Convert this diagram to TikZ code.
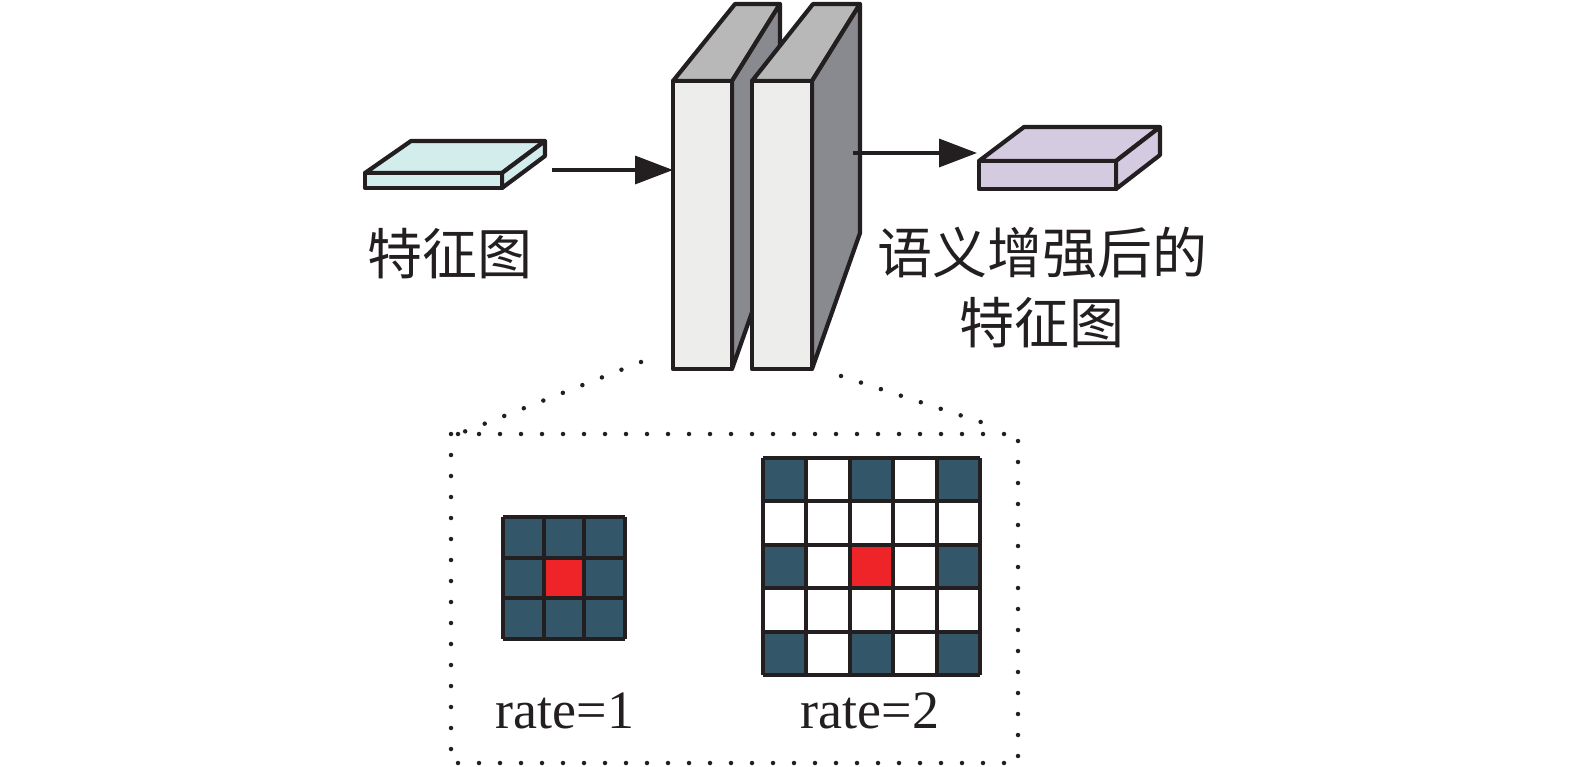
\documentclass[tikz,border=0pt]{standalone}
\usepackage{fontspec}
\setmainfont{Liberation Serif}
\newfontfamily\cjk{Noto Sans CJK SC}
\usetikzlibrary{arrows.meta}
\definecolor{edge}{HTML}{231F20}
\definecolor{slabA}{HTML}{D3ECEC}
\definecolor{slabB}{HTML}{D5CBE0}
\definecolor{pfront}{HTML}{EDEDEB}
\definecolor{ptop}{HTML}{B8B8B8}
\definecolor{pside}{HTML}{898A8F}
\definecolor{cellD}{HTML}{335669}
\definecolor{cellR}{HTML}{EE2429}
\tikzset{
  face/.style={draw=edge, line width=4.2pt, line join=round},
  conn/.style={draw=edge, line width=3.5pt, -{Triangle[length=38pt,width=28pt]}},
  dots/.style={draw=edge, line width=4.5pt, line cap=round, dash pattern=on 0pt off 21pt},
  gridline/.style={draw=edge, line width=4pt},
  cnlabel/.style={font=\cjk\fontsize{55}{70}\selectfont, text=edge, inner sep=0pt, align=center},
  ratelabel/.style={font=\fontsize{54}{60}\selectfont, text=edge, inner sep=0pt, anchor=base},
}
\begin{document}
\begin{tikzpicture}[x=1pt,y=-1pt]
\useasboundingbox (0,0) rectangle (1575,767);
% dotted zoom box
\draw[dots] (641,362) -- (456,435);
\draw[dots] (841,376) -- (999,428);
\draw[dots] (451,434) rectangle (1018,763);
% input slab
\path[face, fill=slabA] (365,173) -- (411,141) -- (545,141) -- (502,173) -- cycle;
\path[face, fill=slabA] (502,173) -- (545,141) -- (545,156) -- (502,188) -- cycle;
\path[face, fill=slabA] (365,173) rectangle (502,188);
\coordinate (inslab) at (552,170);
% panel 1
\path[face, fill=ptop] (673,81) -- (735,4) -- (780,4) -- (732,81) -- cycle;
\path[face, fill=pside] (732,81) -- (780,4) -- (780,233) -- (732,369) -- cycle;
\path[face, fill=pfront] (673,81) rectangle (732,369);
% panel 2
\path[face, fill=ptop] (752,81) -- (813,4) -- (860,4) -- (812,81) -- cycle;
\path[face, fill=pside] (812,81) -- (860,4) -- (860,233) -- (812,369) -- cycle;
\path[face, fill=pfront] (752,81) rectangle (812,369);
\coordinate (p1w) at (673,170);
\coordinate (p2e) at (853,153);
% output slab
\path[face, fill=slabB] (979,161) -- (1024,127) -- (1160,127) -- (1116,161) -- cycle;
\path[face, fill=slabB] (1116,161) -- (1160,127) -- (1160,155) -- (1116,189) -- cycle;
\path[face, fill=slabB] (979,161) rectangle (1116,189);
\coordinate (outslab) at (977,153);
% connectors
\draw[conn] (inslab) -- (p1w);
\draw[conn] (p2e) -- (outslab);
% labels
\node[cnlabel] (lin) at (450,254) {特征图};
\node[cnlabel] (lout) at (1042,287) {语义增强后的\\特征图};
% 3x3 grid
\fill[cellD] (503,517) rectangle (625,639);
\fill[cellR] (543.67,557.67) rectangle (584.33,598.33);
\foreach \i in {0,...,3} {
  \draw[gridline] ({503+\i*40.667},517) -- ({503+\i*40.667},639);
  \draw[gridline] (503,{517+\i*40.667}) -- (625,{517+\i*40.667});
}
% 5x5 grid
\fill[white] (763,458) rectangle (980,675);
\foreach \r in {0,2,4} \foreach \c in {0,2,4} {
  \fill[cellD] ({763+\c*43.4},{458+\r*43.4}) rectangle ({763+(\c+1)*43.4},{458+(\r+1)*43.4});
}
\fill[cellR] (849.8,544.8) rectangle (893.2,588.2);
\foreach \i in {0,...,5} {
  \draw[gridline] ({763+\i*43.4},458) -- ({763+\i*43.4},675);
  \draw[gridline] (763,{458+\i*43.4}) -- (980,{458+\i*43.4});
}
\node[ratelabel] (r1) at (565,728) {rate=1};
\node[ratelabel] (r2) at (870,728) {rate=2};
\end{tikzpicture}
\end{document}
